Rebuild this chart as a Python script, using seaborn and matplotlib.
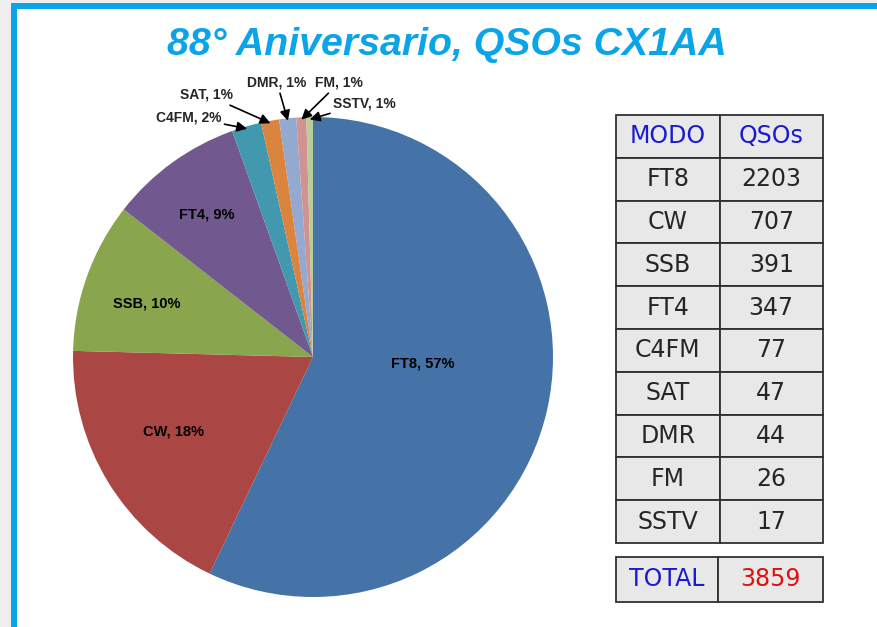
import matplotlib.pyplot as plt
import seaborn as sns
import numpy as np
from matplotlib.patches import Rectangle

# datos
modos = ['FT8', 'CW', 'SSB', 'FT4', 'C4FM', 'SAT', 'DMR', 'FM', 'SSTV']
qsos = [2203, 707, 391, 347, 77, 47, 44, 26, 17]
total = 3859
colores = ['#4572A7', '#AA4643', '#89A54E', '#71588F', '#4198AF',
           '#DB843D', '#93A9CF', '#D19392', '#B9CD96']

sns.set_style('white')
plt.rcParams['font.family'] = ['Liberation Sans', 'DejaVu Sans']

fig = plt.figure(figsize=(8.77, 6.27), dpi=100)
fig.patch.set_facecolor('#efefef')
W, H = 877, 627

# marco azul
fig.add_artist(Rectangle((11 / W, 0), 1, 1 - 3 / H, transform=fig.transFigure,
                         facecolor='#0aa5e8', edgecolor='none', zorder=0))
fig.add_artist(Rectangle((17 / W, 0), 1, 1 - 9 / H, transform=fig.transFigure,
                         facecolor='white', edgecolor='none', zorder=0))

fig.text(447 / W, 1 - 45 / H, '88° Aniversario, QSOs CX1AA', ha='center', va='center',
         fontsize=28.3, fontweight='bold', fontstyle='italic', color='#0aa5e8')

# torta
cx, cy, r = 313, 357, 240
ax = fig.add_axes([(cx - r) / W, 1 - (cy + r) / H, 2 * r / W, 2 * r / H])
ax.set_facecolor('none')
wedges, _ = ax.pie(qsos, colors=colores, startangle=90, counterclock=False,
                   wedgeprops=dict(linewidth=0))
ax.set_xlim(-1, 1)
ax.set_ylim(-1, 1)
ax.axis('off')

# Excel muestra al menos 1%
pct = [max(1, round(100 * q / total)) for q in qsos]
etiquetas = [f'{m}, {p}%' for m, p in zip(modos, pct)]

# posiciones de las etiquetas (coordenadas del eje)
pos_dentro = [(0.458, -0.025), (-0.583, -0.3125), (-0.692, 0.221), (-0.442, 0.592)]
pos_fuera = [(-0.519, 1.0), (-0.442, 1.092), (-0.15, 1.142), (0.108, 1.142), (0.215, 1.058)]

for i, w in enumerate(wedges):
    if i < 4:
        x, y = pos_dentro[i]
        ax.text(x, y, etiquetas[i], ha='center', va='center', fontsize=10.5,
                fontweight='bold', color='black')
    else:
        ang = np.deg2rad((w.theta1 + w.theta2) / 2)
        tip = (0.99 * np.cos(ang), 0.99 * np.sin(ang))
        ax.annotate(etiquetas[i], xy=tip, xytext=pos_fuera[i - 4], ha='center', va='center',
                    fontsize=10, fontweight='bold', annotation_clip=False,
                    arrowprops=dict(arrowstyle='-|>', color='black', lw=1.2,
                                    mutation_scale=15, shrinkA=0, shrinkB=0))

# tabla
celdas = [['MODO', 'QSOs']] + [[m, str(q)] for m, q in zip(modos, qsos)]
tax = fig.add_axes([616 / W, 1 - 543 / H, 207 / W, 428 / H])
tax.axis('off')
tabla = tax.table(cellText=celdas, bbox=[0, 0, 1, 1], cellLoc='center')
tabla.auto_set_font_size(False)
for (fila, col), celda in tabla.get_celld().items():
    celda.set_facecolor('#e8e8e8')
    celda.set_edgecolor('#303030')
    celda.set_linewidth(1.3)
    celda.get_text().set_fontsize(17)
    celda.get_text().set_fontfamily('DejaVu Sans')
    if fila == 0:
        celda.get_text().set_color('#1a1ad0')

tax2 = fig.add_axes([616 / W, 1 - 602 / H, 207 / W, 45 / H])
tax2.axis('off')
tabla2 = tax2.table(cellText=[['TOTAL', str(total)]], bbox=[0, 0, 1, 1],
                    cellLoc='center', colWidths=[102, 105])
tabla2.auto_set_font_size(False)
for (fila, col), celda in tabla2.get_celld().items():
    celda.set_facecolor('#e8e8e8')
    celda.set_edgecolor('#303030')
    celda.set_linewidth(1.3)
    celda.get_text().set_fontsize(17)
    celda.get_text().set_fontfamily('DejaVu Sans')
    celda.get_text().set_color('#1a1ad0' if col == 0 else '#e01010')

fig.savefig('out.png', dpi=100, facecolor=fig.get_facecolor())
